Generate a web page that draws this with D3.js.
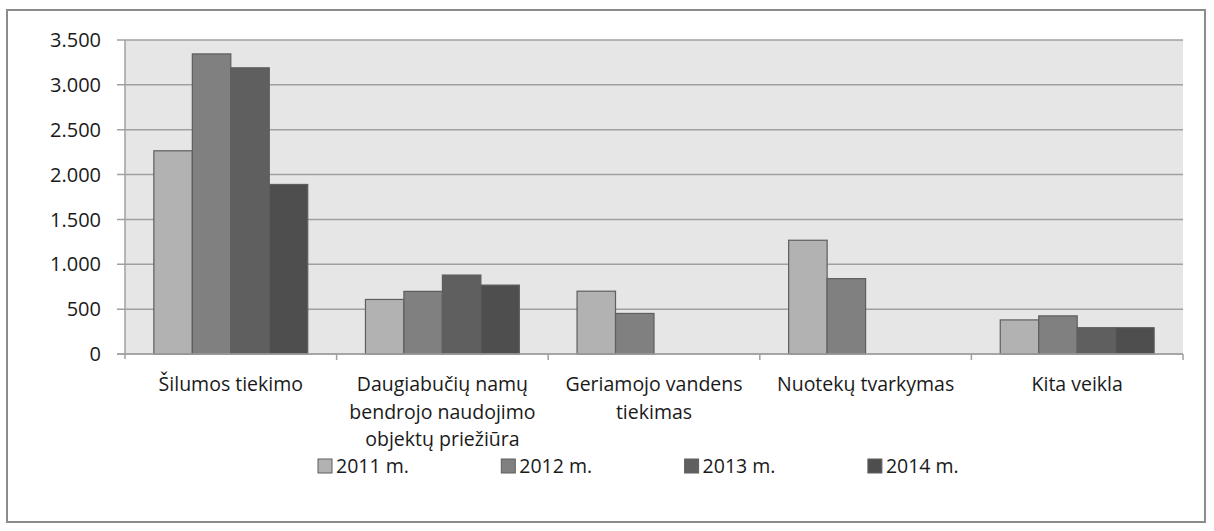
<!DOCTYPE html>
<html lang="lt">
<head>
  <meta charset="UTF-8">
  <title>Pajamos pagal veiklas</title>
  <script src="https://cdnjs.cloudflare.com/ajax/libs/d3/7.8.5/d3.min.js"></script>
  <style>
    body { margin: 0; background: white; }
    svg { display: block; font-family: "Open Sans", Lato, sans-serif; }
  </style>
</head>
<body>
  <script>
    // duomenys
    var categories = [
      ["Šilumos tiekimo"],
      ["Daugiabučių namų", "bendrojo naudojimo", "objektų priežiūra"],
      ["Geriamojo vandens", "tiekimas"],
      ["Nuotekų tvarkymas"],
      ["Kita veikla"]
    ];
    var years = ["2011 m.", "2012 m.", "2013 m.", "2014 m."];
    var v2011 = [2265, 608, 700, 1268, 380];
    var v2012 = [3345, 698, 452, 840, 425];
    var v2013 = [3190, 880, 0, 0, 293];
    var v2014 = [1890, 768, 0, 0, 293];
    var yTicks = [0, 500, 1000, 1500, 2000, 2500, 3000, 3500];
    var colors = ["#b2b2b2", "#808080", "#5f5f5f", "#4e4e4e"];

    var series = [v2011, v2012, v2013, v2014];

    var w = 1214, h = 531;
    var pLeft = 125, pRight = 1183, pTop = 40, pBottom = 354;

    var svg = d3.select("body").append("svg")
      .attr("width", w)
      .attr("height", h);

    svg.append("rect")
      .attr("x", 7).attr("y", 10)
      .attr("width", 1198).attr("height", 512)
      .attr("fill", "white")
      .attr("stroke", "#8c8c8c")
      .attr("stroke-width", 2);

    var x0 = d3.scaleBand()
      .domain(d3.range(categories.length))
      .range([pLeft, pRight]);

    // gap width 150% -> 4 bars + 1.5 bar of gap in every band
    var barW = x0.bandwidth() / 5.5;
    var x1 = d3.scaleBand()
      .domain(d3.range(years.length))
      .range([0, barW * 4]);

    var y = d3.scaleLinear()
      .domain([0, 3500])
      .range([pBottom, pTop]);

    svg.append("rect")
      .attr("x", pLeft).attr("y", pTop)
      .attr("width", pRight - pLeft).attr("height", pBottom - pTop)
      .attr("fill", "#e6e6e6");

    // grid
    svg.append("g")
      .selectAll("line")
      .data(yTicks)
      .enter()
      .append("line")
      .attr("x1", pLeft - 8)
      .attr("x2", pRight)
      .attr("y1", function(d) { return y(d); })
      .attr("y2", function(d) { return y(d); })
      .attr("stroke", "#a0a0a0")
      .attr("stroke-width", 1.5);

    svg.append("g")
      .selectAll("text")
      .data(yTicks)
      .enter()
      .append("text")
      .attr("x", 101)
      .attr("y", function(d) { return y(d); })
      .attr("dy", "0.36em")
      .attr("text-anchor", "end")
      .attr("font-size", 20)
      .attr("fill", "#1a1a1a")
      .text(function(d) { return d3.format(",")(d).replace(/,/g, "."); });

    // bars
    var groups = svg.append("g")
      .selectAll("g")
      .data(categories.map(function(c, i) { return i; }))
      .enter()
      .append("g")
      .attr("transform", function(i) {
        return "translate(" + (x0(i) + barW * 0.75) + ",0)";
      });

    groups.selectAll("rect")
      .data(function(i) {
        return series.map(function(s, k) { return { k: k, v: s[i] }; })
          .filter(function(d) { return d.v > 0; });
      })
      .enter()
      .append("rect")
      .attr("x", function(d) { return x1(d.k); })
      .attr("y", function(d) { return y(d.v); })
      .attr("width", x1.bandwidth())
      .attr("height", function(d) { return pBottom - y(d.v); })
      .attr("fill", function(d) { return colors[d.k]; })
      .attr("stroke", "#5e5e5e")
      .attr("stroke-width", 1.2);

    // axes
    svg.append("line")
      .attr("x1", pLeft).attr("x2", pLeft)
      .attr("y1", pTop).attr("y2", pBottom + 5)
      .attr("stroke", "#a0a0a0").attr("stroke-width", 1.5);

    svg.append("line")
      .attr("x1", pLeft - 8).attr("x2", pRight)
      .attr("y1", pBottom).attr("y2", pBottom)
      .attr("stroke", "#a0a0a0").attr("stroke-width", 1.5);

    svg.append("g")
      .selectAll("line")
      .data(d3.range(categories.length))
      .enter()
      .append("line")
      .attr("x1", function(i) { return x0(i) + x0.bandwidth(); })
      .attr("x2", function(i) { return x0(i) + x0.bandwidth(); })
      .attr("y1", pBottom)
      .attr("y2", pBottom + 6)
      .attr("stroke", "#a0a0a0").attr("stroke-width", 1.5);

    // category labels
    var labels = svg.append("g")
      .selectAll("text")
      .data(categories)
      .enter()
      .append("text")
      .attr("text-anchor", "middle")
      .attr("font-size", 19.5)
      .attr("fill", "#1a1a1a")
      .attr("transform", function(d, i) {
        return "translate(" + (x0(i) + x0.bandwidth() / 2) + ",391)";
      });

    labels.selectAll("tspan")
      .data(function(d) { return d; })
      .enter()
      .append("tspan")
      .attr("x", 0)
      .attr("y", function(d, j) { return j * 27.5; })
      .text(function(d) { return d; });

    // legend
    var legStart = 318, legStep = 183.3;
    var legend = svg.append("g")
      .selectAll("g")
      .data(years)
      .enter()
      .append("g")
      .attr("transform", function(d, i) {
        return "translate(" + (legStart + i * legStep) + ",466)";
      });

    legend.append("rect")
      .attr("x", 0).attr("y", -7)
      .attr("width", 14).attr("height", 14)
      .attr("fill", function(d, i) { return colors[i]; })
      .attr("stroke", "#5e5e5e")
      .attr("stroke-width", 1);

    legend.append("text")
      .attr("x", 18)
      .attr("y", 0)
      .attr("dy", "0.36em")
      .attr("font-size", 19.5)
      .attr("fill", "#1a1a1a")
      .text(function(d) { return d; });
  </script>
</body>
</html>
